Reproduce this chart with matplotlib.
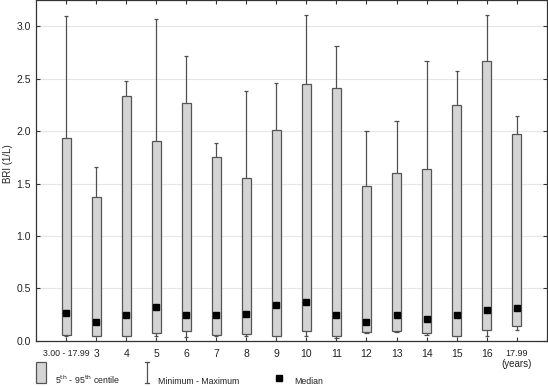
import matplotlib.pyplot as plt
from matplotlib.patches import Rectangle
from matplotlib.lines import Line2D

# age groups
grupos = ['3.00 - 17.99', '3', '4', '5', '6', '7', '8', '9', '10', '11',
          '12', '13', '14', '15', '16', '17.99']
# 5th / 95th centiles
p5 = [0.06, 0.05, 0.05, 0.076, 0.09, 0.06, 0.065, 0.045, 0.093, 0.05,
      0.08, 0.093, 0.07, 0.05, 0.10, 0.14]
p95 = [1.93, 1.375, 2.33, 1.91, 2.27, 1.75, 1.55, 2.01, 2.45, 2.41,
       1.475, 1.60, 1.64, 2.25, 2.665, 1.97]
# minimum / maximum
minimo = [0.045, 0.05, 0.05, 0.047, 0.04, 0.05, 0.05, 0.045, 0.05, 0.026,
          0.075, 0.08, 0.055, 0.047, 0.05, 0.10]
maximo = [3.10, 1.656, 2.48, 3.07, 2.72, 1.89, 2.385, 2.46, 3.11, 2.81,
          2.00, 2.095, 2.67, 2.57, 3.11, 2.14]
mediana = [0.265, 0.18, 0.25, 0.32, 0.25, 0.25, 0.26, 0.345, 0.367, 0.25,
           0.18, 0.25, 0.21, 0.25, 0.29, 0.315]

plt.rcParams['font.family'] = ['Liberation Sans', 'DejaVu Sans']

fig = plt.figure(figsize=(5.48, 3.86), dpi=100)
ax = fig.add_axes([0.0657, 0.117, 0.932, 0.883])

x = list(range(len(grupos)))
ancho = 0.3
cap = 0.07
color_linea = '#505050'

# whiskers
for xi, lo, b, t, hi in zip(x, minimo, p5, p95, maximo):
    ax.vlines(xi, t, hi, color=color_linea, lw=0.9, zorder=2)
    ax.hlines(hi, xi - cap, xi + cap, color=color_linea, lw=0.9, zorder=2)
    ax.vlines(xi, lo, b, color=color_linea, lw=0.9, zorder=2)
    ax.hlines(lo, xi - cap, xi + cap, color=color_linea, lw=0.9, zorder=2)

# centile boxes
alturas = [t - b for b, t in zip(p5, p95)]
ax.bar(x, alturas, bottom=p5, width=ancho, color='#d4d4d4',
       edgecolor='#555555', linewidth=0.9, zorder=3)

# medians
ax.plot(x, mediana, 's', color='black', markersize=4.5, zorder=4)

ax.set_xlim(-1, 16)
ax.set_ylim(0, 3.25)
ax.set_yticks([0, 0.5, 1.0, 1.5, 2.0, 2.5, 3.0])
ax.set_yticklabels(['0.0', '0.5', '1.0', '1.5', '2.0', '2.5', '3.0'])
ax.set_xticks(x)
ax.set_xticklabels(grupos)
ax.grid(axis='y', color='#e6e6e6', lw=0.8, zorder=0)
ax.set_axisbelow(True)
ax.tick_params(axis='both', direction='in', length=3, width=0.8,
               colors='#333333', labelsize=7.5, top=True, right=True,
               labelcolor='#222222')
ax.tick_params(axis='x', pad=6)
etiquetas = ax.get_xticklabels()
etiquetas[0].set_fontsize(6.3)
etiquetas[-1].set_fontsize(6.5)
for s in ax.spines.values():
    s.set_color('#333333')
    s.set_linewidth(0.9)

ax.set_ylabel('BRI (1/L)', fontsize=7, color='#222222')
ax.yaxis.set_label_coords(-0.046, 0.52)
ax.text(15, -0.22, '(years)', ha='center', va='center', fontsize=7,
        color='#222222')

# legend under the chart
fig.add_artist(Rectangle((36 / 548, 1 - 383 / 386), 10 / 548, 21 / 386,
                         transform=fig.transFigure, facecolor='#d4d4d4',
                         edgecolor='#555555', lw=0.9))
fig.text(55 / 548, 1 - 380 / 386, '5$^{\\rm th}$ - 95$^{\\rm th}$ centile',
         fontsize=6.3, color='#222222', va='center')
fig.add_artist(Line2D([147 / 548, 147 / 548], [1 - 383 / 386, 1 - 362 / 386],
                      transform=fig.transFigure, color=color_linea, lw=0.9))
for yy in (362, 383):
    fig.add_artist(Line2D([145 / 548, 149 / 548], [1 - yy / 386, 1 - yy / 386],
                          transform=fig.transFigure, color=color_linea, lw=0.9))
fig.text(158 / 548, 1 - 381 / 386, 'Minimum - Maximum', fontsize=6.3,
         color='#222222', va='center')
fig.add_artist(Line2D([279 / 548], [1 - 378 / 386], transform=fig.transFigure,
                      marker='s', color='black', markersize=4.5, ls='none'))
fig.text(294 / 548, 1 - 382 / 386, 'Median', fontsize=6.3, color='#222222',
         va='center')

fig.savefig('out.png', dpi=100)
